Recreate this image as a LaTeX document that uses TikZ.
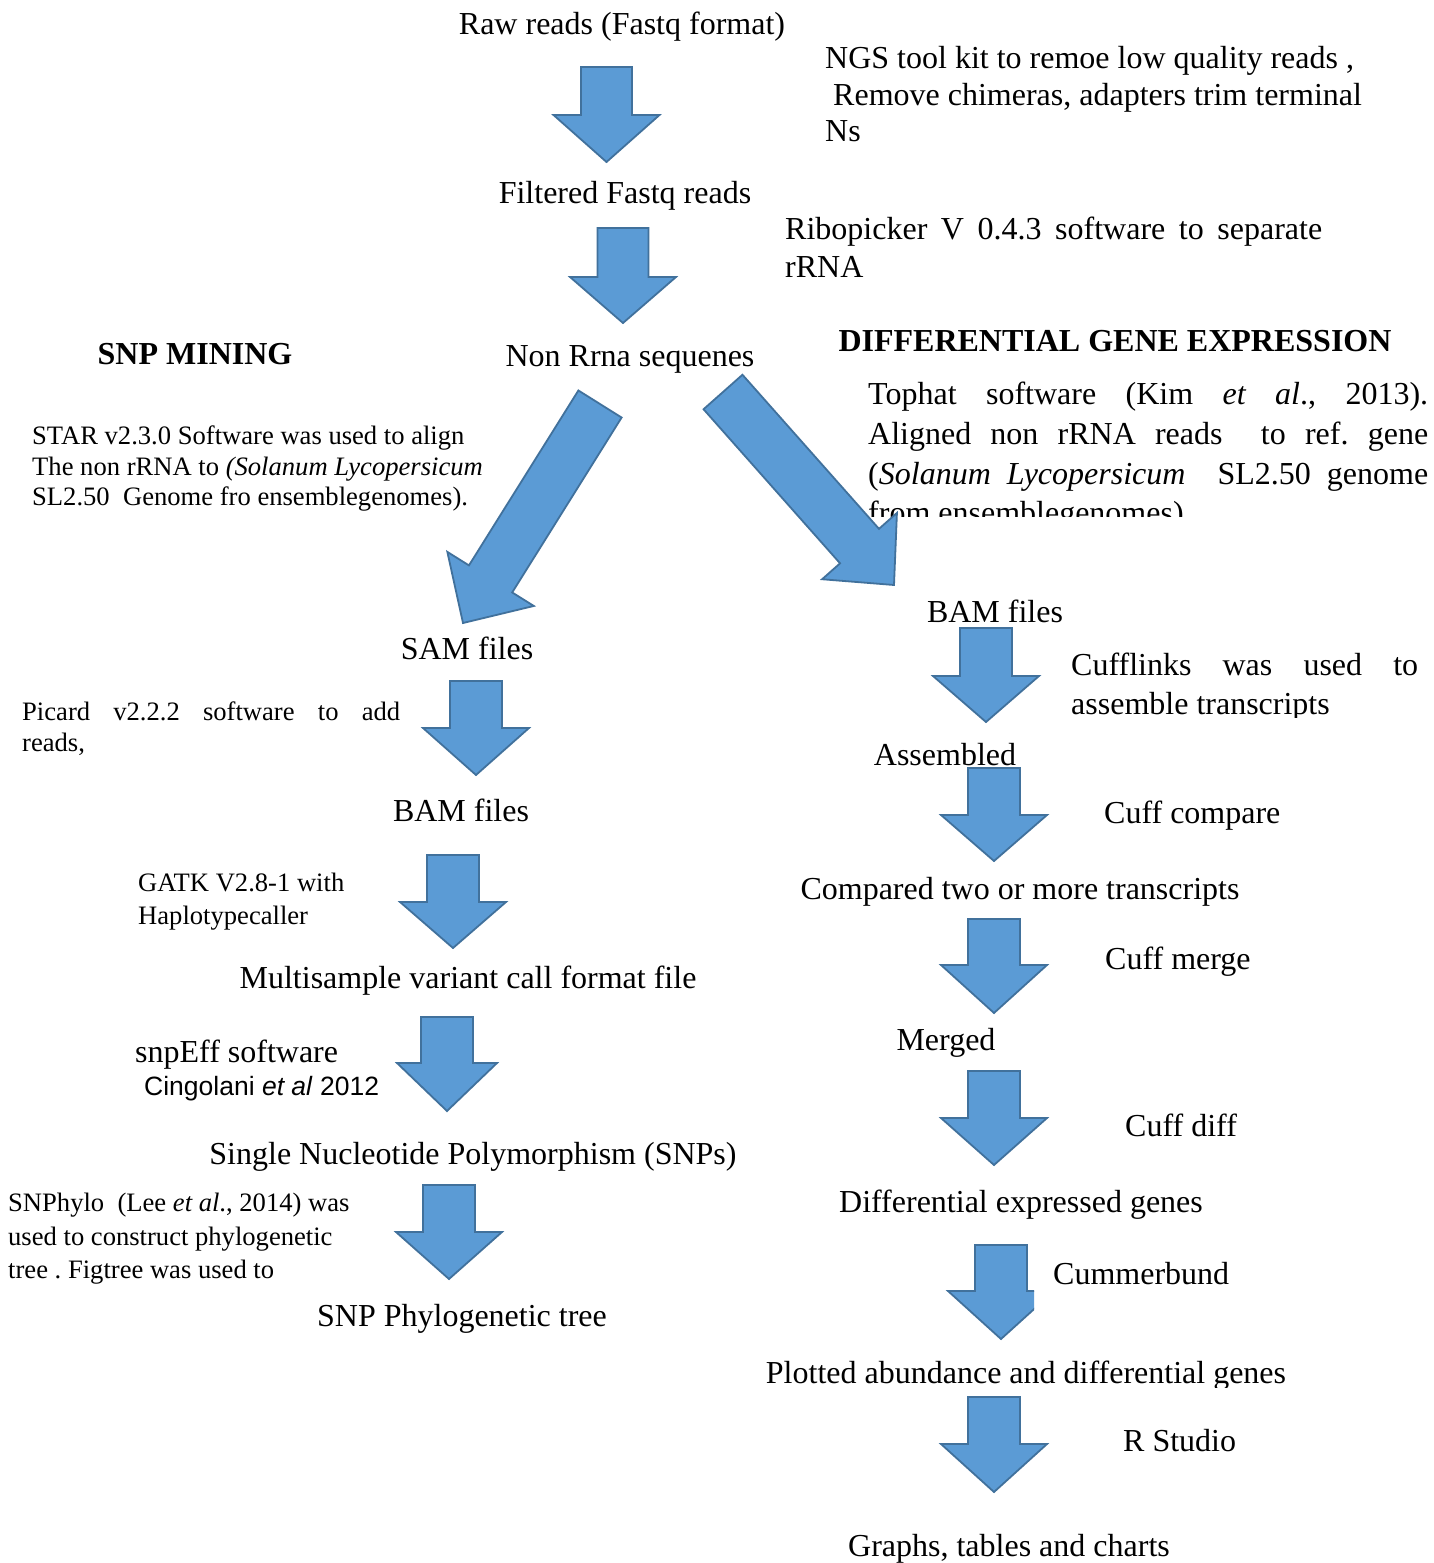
\documentclass[tikz,border=0pt]{standalone}
\usepackage{fontspec}
\setmainfont{Liberation Serif}
\newfontfamily\arialf{Liberation Sans}
\usetikzlibrary{calc}
\definecolor{arrfill}{HTML}{5B9BD5}
\definecolor{arrline}{HTML}{41719C}
\frenchspacing
\tikzset{
  mainf/.style={font=\fontsize{32}{37}\selectfont, inner sep=0pt},
  smallf/.style={font=\fontsize{26.6}{30.5}\selectfont, inner sep=0pt},
  headf/.style={font=\fontsize{32}{37}\selectfont\bfseries, inner sep=0pt},
  blockarrow/.style={fill=arrfill, draw=arrline, line width=1.8pt, line join=miter},
}
% name, tail, tip, half shaft width, half head width, head length
\newcommand{\barr}[6]{%
  \coordinate (#1-s) at #2;
  \coordinate (#1-e) at #3;
  \coordinate (#1-h) at ($(#1-e)!#6pt!(#1-s)$);
  \draw[blockarrow] ($(#1-s)!#4pt!90:(#1-e)$) -- ($(#1-h)!#4pt!-90:(#1-s)$)
    -- ($(#1-h)!#5pt!-90:(#1-s)$) -- (#1-e) -- ($(#1-h)!#5pt!90:(#1-s)$)
    -- ($(#1-h)!#4pt!90:(#1-s)$) -- ($(#1-s)!#4pt!-90:(#1-e)$) -- cycle;
}
\begin{document}
\begin{tikzpicture}[x=1pt,y=-1pt]
\fill[white] (0,0) rectangle (1434,1563);
\useasboundingbox (0,0) rectangle (1434,1563);

% ---------- top ----------
\node[mainf, anchor=base] (raw) at (622,35) {Raw reads (Fastq format)};
\node[mainf, anchor=base west] (ngs1) at (825,68) {NGS tool kit to remoe low quality reads ,};
\node[mainf, anchor=base west] (ngs2) at (833,105) {Remove chimeras, adapters trim terminal};
\node[mainf, anchor=base west] (ngs3) at (825,141) {Ns};
\node[mainf, anchor=base] (filt) at (625,203) {Filtered Fastq reads};
\node[mainf, anchor=base west] (ribo1) at (785,239) {\makebox[537pt][s]{Ribopicker V 0.4.3 software to separate}};
\node[mainf, anchor=base west] (ribo2) at (785,277) {rRNA};
\node[headf, anchor=base] (snpmin) at (195,364) {SNP MINING};
\node[mainf, anchor=base] (nonr) at (630,366) {Non Rrna sequenes};
\node[headf, anchor=base] (dge) at (1115,351) {DIFFERENTIAL GENE EXPRESSION};

% Tophat block
\node[mainf, anchor=base west] (top1) at (868,404) {\makebox[560pt][s]{Tophat software (Kim \textit{et al}., 2013).}};
\node[mainf, anchor=base west] (top2) at (868,444) {\makebox[560pt][s]{Aligned non rRNA reads \ to ref. gene}};
\node[mainf, anchor=base west] (top3) at (868,484) {\makebox[560pt][s]{(\textit{Solanum Lycopersicum} \ SL2.50 genome}};
\begin{scope}
\clip (860,491) rectangle (1434,516);
\node[mainf, anchor=base west] (top4) at (868,523) {from ensemblegenomes)};
\end{scope}

% STAR block
\node[smallf, anchor=base west] (star1) at (32,444) {STAR v2.3.0 Software was used to align};
\node[smallf, anchor=base west] (star2) at (32,475) {The non rRNA to \textit{(Solanum Lycopersicum}};
\node[smallf, anchor=base west] (star3) at (32,505) {SL2.50 \ Genome fro ensemblegenomes).};

% ---------- left column ----------
\node[mainf, anchor=base] (sam) at (467,659) {SAM files};
\node[smallf, anchor=base west] (pic1) at (22,720) {\makebox[378pt][s]{Picard \ v2.2.2 \ software \ to \ add}};
\node[smallf, anchor=base west] (pic2) at (22,751) {reads,};
\node[mainf, anchor=base] (baml) at (461,821) {BAM files};
\node[smallf, anchor=base west] (gatk1) at (138,891) {GATK V2.8-1 with};
\node[smallf, anchor=base west] (gatk2) at (138,924) {Haplotypecaller};
\node[mainf, anchor=base] (multi) at (468,988) {Multisample variant call format file};
\node[mainf, anchor=base west] (snpeff) at (135,1062) {snpEff software};
\node[font=\arialf\fontsize{26.5}{30}\selectfont, inner sep=0pt, anchor=base west] (cing) at (144,1095) {Cingolani \textit{et al} 2012};
\node[mainf, anchor=base] (snps) at (473,1164) {Single Nucleotide Polymorphism (SNPs)};
\node[smallf, anchor=base west] (phy1) at (8,1211) {SNPhylo \ (Lee \textit{et al}., 2014) was};
\node[smallf, anchor=base west] (phy2) at (8,1245) {used to construct phylogenetic};
\node[smallf, anchor=base west] (phy3) at (8,1278) {tree . Figtree was used to};
\node[mainf, anchor=base] (tree) at (462,1326) {SNP Phylogenetic tree};

% ---------- right column ----------
\node[mainf, anchor=base] (bamr) at (995,622) {BAM files};
\node[mainf, anchor=base west] (cuf1) at (1071,675) {\makebox[347pt][s]{Cufflinks was used to}};
\begin{scope}
\clip (1060,680) rectangle (1434,717);
\node[mainf, anchor=base west] (cuf2) at (1071,714) {assemble transcripts};
\end{scope}
\node[mainf, anchor=base] (assem) at (945,765) {Assembled};
\node[mainf, anchor=base west] (cuffcomp) at (1104,823) {Cuff compare};
\node[mainf, anchor=base] (comp) at (1020,899) {Compared two or more transcripts};
\node[mainf, anchor=base west] (cuffmerge) at (1105,969) {Cuff merge};
\node[mainf, anchor=base] (merged) at (946,1050) {Merged};
\node[mainf, anchor=base west] (cuffdiff) at (1125,1136) {Cuff diff};
\node[mainf, anchor=base] (deg) at (1021,1212) {Differential expressed genes};
\node[mainf, anchor=base west] (cumm) at (1053,1284) {Cummerbund};
\begin{scope}
\clip (700,1340) rectangle (1434,1387);
\node[mainf, anchor=base] (plot) at (1026,1383) {Plotted abundance and differential genes};
\end{scope}
\node[mainf, anchor=base west] (rstudio) at (1123,1451) {R Studio};
\node[mainf, anchor=base] (graphs) at (1009,1556) {Graphs, tables and charts};

% ---------- block arrows ----------
\barr{a1}{(606.5,67)}{(606.5,162)}{25.5}{53}{47}
\barr{a2}{(623,228)}{(623,323)}{25.5}{53}{46}
\barr{dl}{(600,404)}{(463,623)}{25.5}{51}{52}
\barr{dr}{(723,392)}{(894,585)}{26}{50}{52}
\barr{l1}{(476,681)}{(476,775)}{26}{53}{47}
\barr{l2}{(453,855)}{(453,948)}{26}{53}{46}
\barr{l3}{(447,1017)}{(447,1111)}{26}{50}{48}
\barr{l4}{(449,1185)}{(449,1279)}{26}{53}{47}
\barr{r1}{(986,628)}{(986,722)}{26}{53}{46}
\barr{r2}{(994,768)}{(994,861)}{26}{53}{46}
\barr{r3}{(994,919)}{(994,1013)}{26}{53}{48}
\barr{r4}{(994,1071)}{(994,1165)}{26}{53}{47}
\begin{scope}
\clip (900,1230) rectangle (1034,1350);
\barr{r5}{(1001,1245)}{(1001,1339)}{26}{53}{48}
\end{scope}
\barr{r6}{(994,1397)}{(994,1492)}{26}{53}{48}
\end{tikzpicture}
\end{document}
